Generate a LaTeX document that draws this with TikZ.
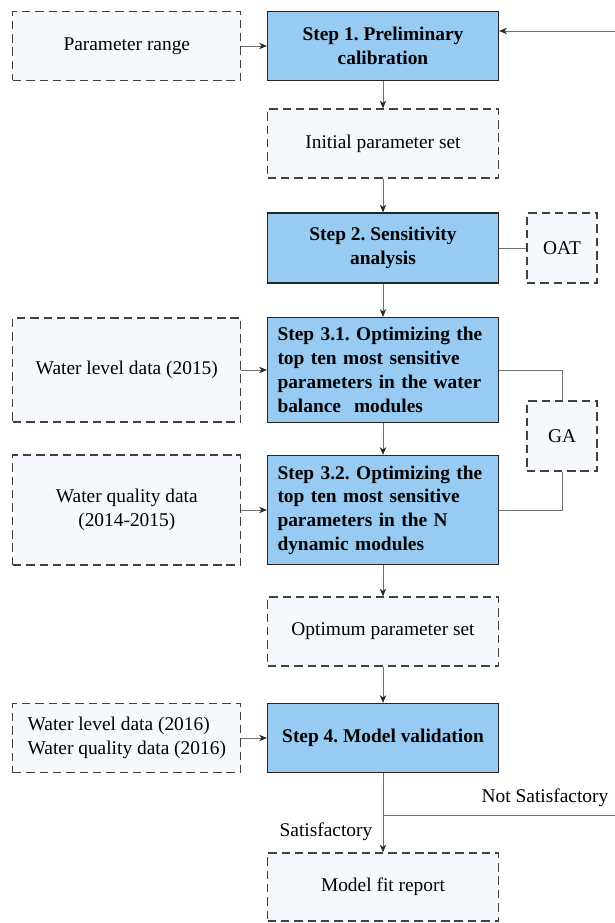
\documentclass[tikz,border=0pt]{standalone}
\usepackage{fontspec}
\setmainfont{Liberation Serif}[BoldFont={Liberation Serif Bold}]
\usetikzlibrary{positioning,arrows.meta}
\frenchspacing

\definecolor{stepblue}{RGB}{151,203,242}
\definecolor{datafill}{RGB}{245,249,254}
\definecolor{edgegray}{RGB}{64,64,64}
\definecolor{linegray}{RGB}{112,112,112}

\begin{document}
\begin{tikzpicture}[
    stepbox/.style={rectangle, draw=black!85, fill=stepblue, line width=0.9pt, minimum width=5.775cm, minimum height=1.725cm, align=center, font=\fontsize{13.8}{16.9}\selectfont\bfseries},
    stepleft/.style={stepbox, text width=5.275cm, align=left},
    databox/.style={rectangle, draw=edgegray, fill=datafill, line width=0.9pt, dash pattern=on 6pt off 3.5pt, minimum width=5.7cm, minimum height=1.725cm, align=center, font=\fontsize{13.8}{16.9}\selectfont},
    toolbox/.style={databox, minimum width=1.75cm, minimum height=1.75cm},
    lbl/.style={font=\fontsize{13.8}{16.9}\selectfont},
    arrow/.style={->, >={Stealth[length=5.5pt, width=4.5pt, color=black!85]}, draw=linegray, line width=0.6pt},
    link/.style={draw=linegray, line width=0.6pt}
]
\useasboundingbox (0,0) rectangle (15.35,-23.075);

\node[databox] (range) at (3.17, -1.15) {Parameter range};
\node[stepbox] (s1) at (9.575, -1.15) {Step 1. Preliminary\\calibration};
\node[databox, minimum width=5.775cm] (init) at (9.575, -3.5875) {Initial parameter set};
\node[stepbox, minimum height=1.75cm] (s2) at (9.575, -6.2) {Step 2. Sensitivity\\analysis};
\node[toolbox] (oat) at (14.05, -6.2) {OAT};
\node[databox, minimum height=2.6cm] (wl15) at (3.17, -9.25) {Water level data (2015)};
\node[stepleft, minimum height=2.625cm] (s31) at (9.575, -9.25) {Step 3.1. Optimizing the\\top ten most sensitive\\parameters in the water\\balance~ modules};
\node[toolbox] (ga) at (14.05, -10.9) {GA};
\node[databox, minimum height=2.75cm] (wq) at (3.17, -12.75) {Water quality data\\(2014-2015)};
\node[stepleft, minimum height=2.725cm] (s32) at (9.575, -12.75) {Step 3.2. Optimizing the\\top ten most sensitive\\parameters in the N\\dynamic modules};
\node[databox, minimum width=5.775cm] (opt) at (9.575, -15.7875) {Optimum parameter set};
\node[databox, align=left] (wd16) at (3.17, -18.45) {Water level data (2016)\\Water quality data (2016)};
\node[stepbox] (s4) at (9.575, -18.45) {Step 4. Model validation};
\node[databox, minimum width=5.775cm, minimum height=1.7cm] (rep) at (9.575, -22.175) {Model fit report};

\coordinate (br) at (9.575, -20.375);
\coordinate (fb) at (15.45, -20.375);
\node[lbl] (sat) at (8.15, -20.8) {Satisfactory};
\node[lbl] (nsat) at (13.625, -19.95) {Not Satisfactory};

\draw[arrow] (range) -- (s1);
\draw[arrow] (s1) -- (init);
\draw[arrow] (init) -- (s2);
\draw[link] (s2) -- (oat);
\draw[arrow] (s2) -- (s31);
\draw[arrow] (wl15) -- (s31);
\draw[link] (s31.east) -| (ga.north);
\draw[link] (s32.east) -| (ga.south);
\draw[arrow] (s31) -- (s32);
\draw[arrow] (wq) -- (s32);
\draw[arrow] (s32) -- (opt);
\draw[arrow] (opt) -- (s4);
\draw[arrow] (wd16) -- (s4);
\draw[arrow] (s4) -- (rep);
\draw[arrow] (br) -- (fb) |- ([yshift=0.375cm]s1.east);

\end{tikzpicture}
\end{document}
